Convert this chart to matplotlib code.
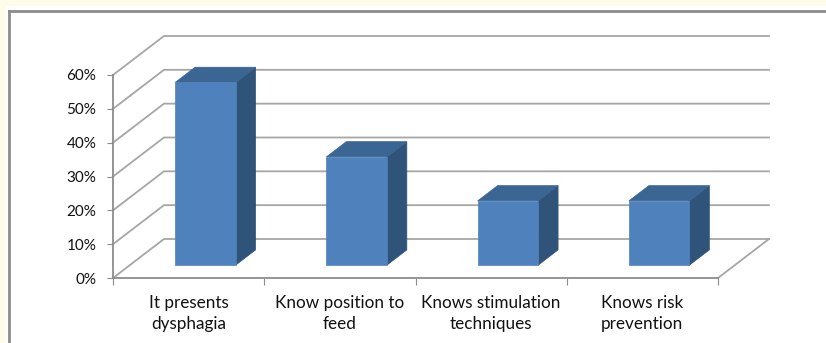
import numpy as np
import matplotlib
matplotlib.use("Agg")
import matplotlib.pyplot as plt
from matplotlib.patches import Polygon, Rectangle
from matplotlib.lines import Line2D
from matplotlib.ticker import PercentFormatter

categories = ['It presents\ndysphagia', 'Know position to\nfeed',
              'Knows stimulation\ntechniques', 'Knows risk\nprevention']
values = [0.54, 0.32, 0.19, 0.19]
yticks = [0.0, 0.1, 0.2, 0.3, 0.4, 0.5, 0.6]

plt.rcParams['font.family'] = ['Lato', 'DejaVu Sans']

W, H = 826, 343
fig = plt.figure(figsize=(W / 100, H / 100), dpi=100)
fig.patch.set_facecolor('#fffbea')
# white chart area with grey frame
fig.patches.append(Rectangle((6 / W, 0), 1, 1 - 6 / H, transform=fig.transFigure,
                             facecolor='white', edgecolor='none', zorder=-10))
fig.lines.append(Line2D([9 / W, 9 / W], [0, 1 - 11 / H], transform=fig.transFigure,
                        color='#8c8c8c', lw=2, zorder=-9))
fig.lines.append(Line2D([9 / W, 1], [1 - 11 / H, 1 - 11 / H], transform=fig.transFigure,
                        color='#8c8c8c', lw=2, zorder=-9))

ax = fig.add_axes([113 / W, 65 / H, 605 / W, 203 / H])
ax.set_xlim(0, len(categories))
ax.set_ylim(0, 0.6)
ax.patch.set_visible(False)

# oblique depth offset (full depth of the floor) in data units
DX, DY = 0.337, 0.1153
grid_c = '#a6a6a6'
axis_c = '#8c8c8c'
n = len(categories)

def proj(x, y, d):
    return (x + d * DX, y + d * DY)

# back wall gridlines and side wall diagonals
for t in yticks:
    p0 = proj(0, t, 0)
    p1 = proj(0, t, 1)
    p2 = proj(n, t, 1)
    ax.plot([p0[0], p1[0], p2[0]], [p0[1], p1[1], p2[1]], color=grid_c, lw=1.3,
            clip_on=False, zorder=1, solid_joinstyle='miter')

# floor right edge
a = proj(n, 0, 0)
b = proj(n, 0, 1)
ax.plot([a[0], b[0]], [a[1], b[1]], color=grid_c, lw=1.3, clip_on=False, zorder=1)

# 3D-looking bars
bw = 0.40
d0, d1 = 0.33, 0.72
front_c, top_c, side_c = '#4f81bd', '#3b6592', '#30537a'
for i, v in enumerate(values):
    x0 = i + 0.5 - bw / 2
    x1 = i + 0.5 + bw / 2
    side = [proj(x1, 0, d0), proj(x1, 0, d1), proj(x1, v, d1), proj(x1, v, d0)]
    top = [proj(x0, v, d0), proj(x1, v, d0), proj(x1, v, d1), proj(x0, v, d1)]
    front = [proj(x0, 0, d0), proj(x1, 0, d0), proj(x1, v, d0), proj(x0, v, d0)]
    for pts, c in [(side, side_c), (top, top_c), (front, front_c)]:
        ax.add_patch(Polygon(pts, closed=True, facecolor=c, edgecolor=c, lw=0.5,
                             clip_on=False, zorder=3))

# axes
for s in ['top', 'right']:
    ax.spines[s].set_visible(False)
for s in ['left', 'bottom']:
    ax.spines[s].set_color(axis_c)
    ax.spines[s].set_linewidth(1.3)
    ax.spines[s].set_zorder(2)

ax.set_yticks(yticks)
ax.yaxis.set_major_formatter(PercentFormatter(1.0, decimals=0))
ax.tick_params(axis='y', direction='out', length=4, color=axis_c, pad=8,
               labelsize=11, labelcolor='#111111')

ax.set_xticks(np.arange(n + 1))
ax.set_xticklabels([])
ax.set_xticks(np.arange(n) + 0.5, minor=True)
ax.set_xticklabels(categories, minor=True, linespacing=1.4)
ax.tick_params(axis='x', which='major', direction='out', length=5, color=axis_c)
ax.tick_params(axis='x', which='minor', length=0, pad=12, labelsize=12.3,
               labelcolor='#111111')

fig.savefig('out.png', dpi=100, facecolor=fig.get_facecolor())
